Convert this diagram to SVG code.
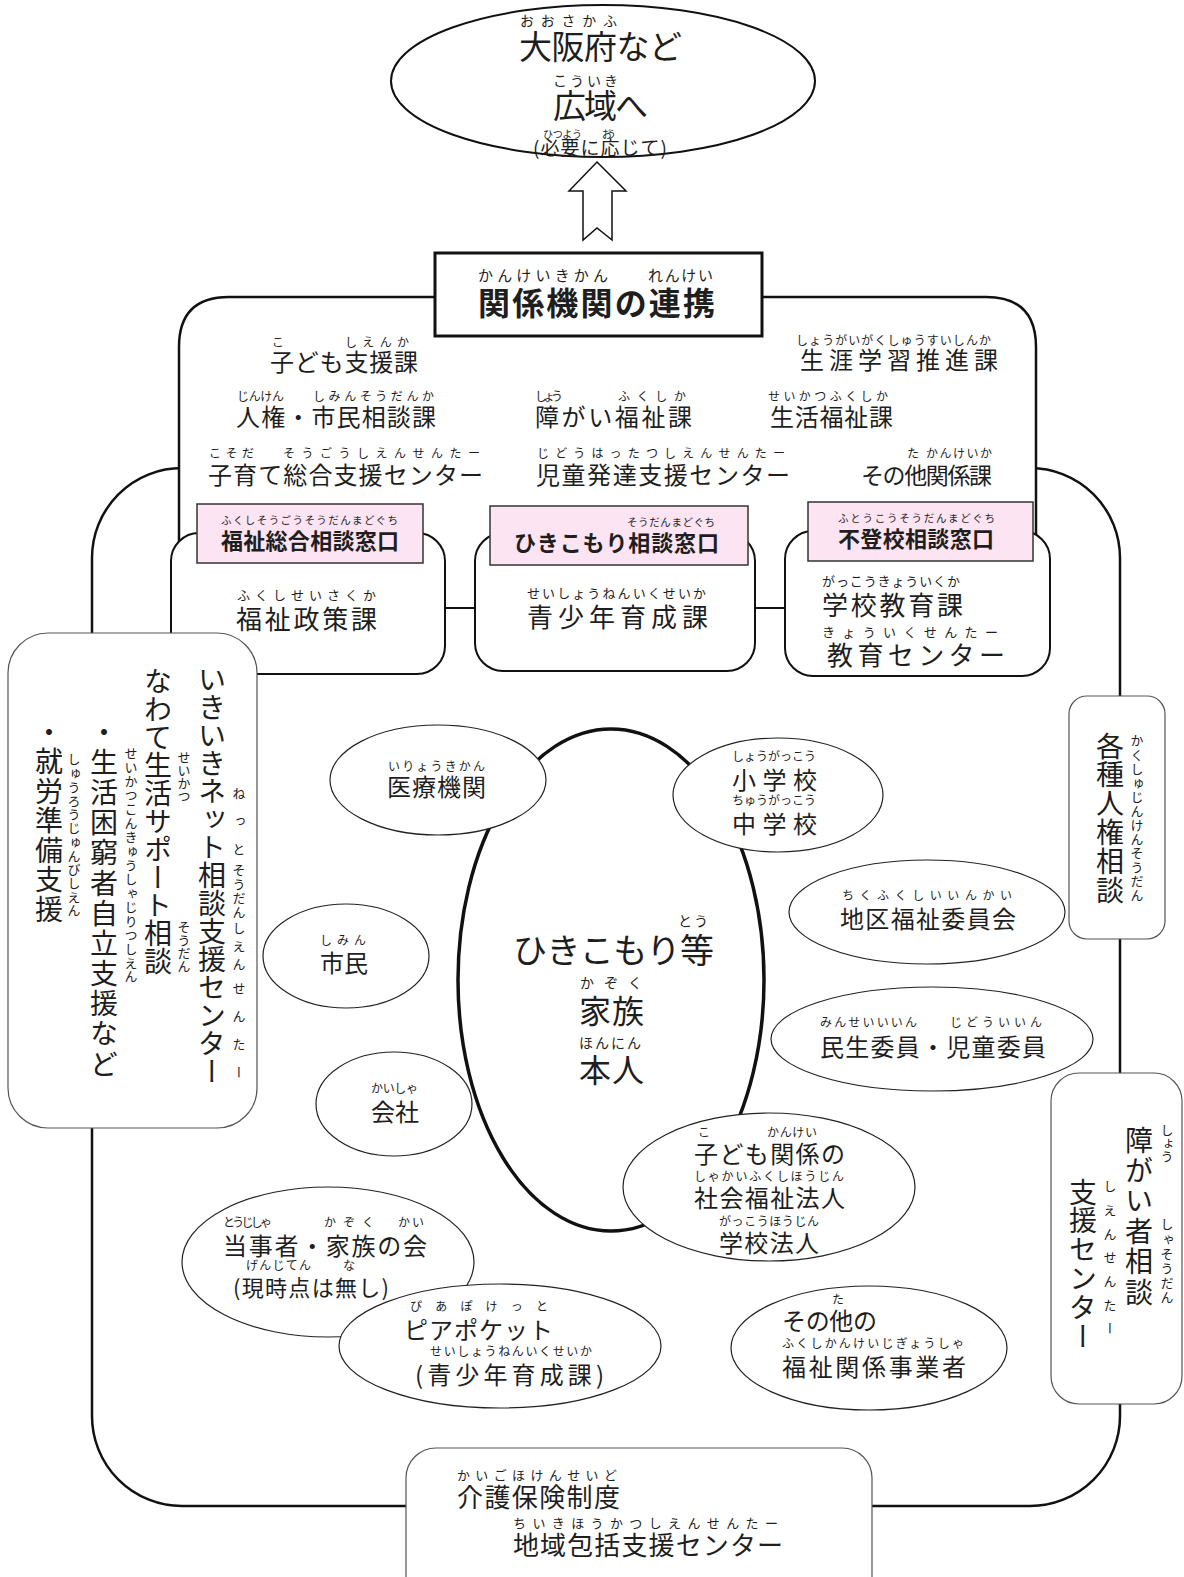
<svg xmlns="http://www.w3.org/2000/svg" width="1184" height="1577" viewBox="0 0 1184 1577">
<style>
text{font-family:"Noto Sans CJK JP","Noto Sans CJK SC",sans-serif;fill:#1e1e1e}
.r{font-size:12px}
.r13{font-size:13px}
.m{font-size:24px}
.b{font-weight:bold}
.v{writing-mode:vertical-rl}
.frame{fill:#fff;stroke:#111;stroke-width:2.5}
.box{fill:#fff;stroke:#111;stroke-width:2}
.pink{fill:#fce4f2;stroke:#333;stroke-width:1.5}
.side{fill:#fff;stroke:#555;stroke-width:1.2}
.ell{fill:#fff;stroke:#222;stroke-width:1.2}
</style>
<rect width="1184" height="1577" fill="#fff"/>
<g id="frame">
<rect class="frame" x="92" y="468" width="1028" height="1038" rx="90"/>
<path class="frame" d="M179,600 V347 Q179,297 229,297 H986 Q1036,297 1036,347 V600"/>
</g>
<g id="top">
<ellipse cx="603" cy="81" rx="212" ry="76" fill="#fff" stroke="#111" stroke-width="2"/>
<text x="520" y="26" style="font-size:14px" textLength="97" lengthAdjust="spacing">おおさかふ</text>
<text x="519" y="59" style="font-size:33px" textLength="163" lengthAdjust="spacing">大阪府など</text>
<text x="553" y="86" style="font-size:14px" textLength="65" lengthAdjust="spacing">こういき</text>
<text x="553" y="118" style="font-size:33px" textLength="95" lengthAdjust="spacing">広域へ</text>
<text x="543" y="138" style="font-size:10px" textLength="39" lengthAdjust="spacing">ひつよう</text>
<text x="602" y="138" style="font-size:10px" textLength="14" lengthAdjust="spacing">おう</text>
<text x="533" y="155" style="font-size:19px" textLength="134" lengthAdjust="spacing">(必要に応じて)</text>
</g>
<g id="connectors">
<polygon points="597,162 626,191 612,191 612,240 597,228 583,240 583,191 569,191" fill="#fff" stroke="#111" stroke-width="1.5"/>
<line x1="445" y1="608" x2="475" y2="608" stroke="#111" stroke-width="2"/>
<line x1="755" y1="608" x2="785" y2="608" stroke="#111" stroke-width="2"/>
</g>
<g id="title">
<rect x="435" y="253" width="327" height="83" fill="#fff" stroke="#111" stroke-width="3"/>
<text x="478" y="281" style="font-size:15px" textLength="130" lengthAdjust="spacing">かんけいきかん</text>
<text x="648" y="281" style="font-size:15px" textLength="65" lengthAdjust="spacing">れんけい</text>
<text class="b" x="478" y="315" style="font-size:32px" textLength="237" lengthAdjust="spacing">関係機関の連携</text>
</g>
<g id="upper-texts">
<text class="r" x="272" y="347">こ</text>
<text class="r" x="345" y="347" textLength="64" lengthAdjust="spacing">しえんか</text>
<text class="m" x="270" y="371" textLength="148" lengthAdjust="spacing">子ども支援課</text>
<text class="r" x="796" y="345" textLength="195" lengthAdjust="spacing">しょうがいがくしゅうすいしんか</text>
<text class="m" x="800" y="369" textLength="198" lengthAdjust="spacing">生涯学習推進課</text>
<text class="r" x="237" y="401" textLength="47" lengthAdjust="spacing">じんけん</text>
<text class="r" x="313" y="401" textLength="121" lengthAdjust="spacing">しみんそうだんか</text>
<text class="m" x="236" y="426" textLength="200" lengthAdjust="spacing">人権・市民相談課</text>
<text class="r" x="535" y="401" textLength="28" lengthAdjust="spacing">しょう</text>
<text class="r" x="618" y="401" textLength="68" lengthAdjust="spacing">ふくしか</text>
<text class="m" x="535" y="426" textLength="157" lengthAdjust="spacing">障がい福祉課</text>
<text class="r" x="768" y="401" textLength="120" lengthAdjust="spacing">せいかつふくしか</text>
<text class="m" x="770" y="426" textLength="123" lengthAdjust="spacing">生活福祉課</text>
<text class="r" x="209" y="458" textLength="45" lengthAdjust="spacing">こそだ</text>
<text class="r" x="283" y="458" textLength="197" lengthAdjust="spacing">そうごうしえんせんたー</text>
<text class="m" x="208" y="484" textLength="275" lengthAdjust="spacing">子育て総合支援センター</text>
<text class="r" x="537" y="458" textLength="248" lengthAdjust="spacing">じどうはったつしえんせんたー</text>
<text class="m" x="536" y="484" textLength="254" lengthAdjust="spacing">児童発達支援センター</text>
<text class="r" x="907" y="458">た</text>
<text class="r" x="926" y="458" textLength="66" lengthAdjust="spacing">かんけいか</text>
<text x="861" y="484" style="font-size:23px" textLength="131" lengthAdjust="spacing">その他関係課</text>
</g>
<g id="box-fukushi">
<rect class="box" x="171" y="533" width="274" height="141" rx="28"/>
<text class="r13" x="237" y="600" textLength="139" lengthAdjust="spacing">ふくしせいさくか</text>
<text x="236" y="629" style="font-size:26px" textLength="141" lengthAdjust="spacing">福祉政策課</text>
</g>
<g id="box-seishonen">
<rect class="box" x="475" y="533" width="280" height="138" rx="28"/>
<text class="r13" x="527" y="598" textLength="179" lengthAdjust="spacing">せいしょうねんいくせいか</text>
<text x="527" y="627" style="font-size:26px" textLength="181" lengthAdjust="spacing">青少年育成課</text>
</g>
<g id="box-gakko">
<rect class="box" x="785" y="531" width="265" height="145" rx="28"/>
<text class="r13" x="822" y="586" textLength="138" lengthAdjust="spacing">がっこうきょういくか</text>
<text x="822" y="615" style="font-size:26px" textLength="141" lengthAdjust="spacing">学校教育課</text>
<text class="r13" x="822" y="637" textLength="176" lengthAdjust="spacing">きょういくせんたー</text>
<text x="827" y="665" style="font-size:26px" textLength="178" lengthAdjust="spacing">教育センター</text>
</g>
<g id="pink-fukushi">
<rect class="pink" x="197" y="504" width="226" height="59"/>
<text x="221" y="524" style="font-size:10.5px" textLength="177" lengthAdjust="spacing">ふくしそうごうそうだんまどぐち</text>
<text class="b" x="221" y="549" style="font-size:22px" textLength="178" lengthAdjust="spacing">福祉総合相談窓口</text>
</g>
<g id="pink-hikikomori">
<rect class="pink" x="490" y="506" width="258" height="59"/>
<text x="627" y="526" style="font-size:10.5px" textLength="88" lengthAdjust="spacing">そうだんまどぐち</text>
<text class="b" x="514" y="551" style="font-size:22px" textLength="205" lengthAdjust="spacing">ひきこもり相談窓口</text>
</g>
<g id="pink-futoko">
<rect class="pink" x="808" y="502" width="225" height="59"/>
<text x="838" y="522" style="font-size:10.5px" textLength="157" lengthAdjust="spacing">ふとうこうそうだんまどぐち</text>
<text class="b" x="838" y="547" style="font-size:22px" textLength="156" lengthAdjust="spacing">不登校相談窓口</text>
</g>
<g id="left-box">
<rect class="side" x="8" y="633" width="249" height="495" rx="40"/>
<text class="v" x="212" y="665" style="font-size:28px" textLength="420" lengthAdjust="spacing">いきいきネット相談支援センター</text>
<text class="v r13" x="239" y="787" letter-spacing="15">ねっと</text>
<text class="v r13" x="239" y="864" letter-spacing="1">そうだん</text>
<text class="v r13" x="239" y="922" letter-spacing="5">しえん</text>
<text class="v r13" x="239" y="982" letter-spacing="15">せんたー</text>
<text class="v" x="158" y="667" style="font-size:28px" textLength="308" lengthAdjust="spacing">なわて生活サポート相談</text>
<text class="v r13" x="184" y="751">せいかつ</text>
<text class="v r13" x="184" y="921">そうだん</text>
<text class="v" x="104" y="718" style="font-size:28px" textLength="360" lengthAdjust="spacing">・生活困窮者自立支援など</text>
<text class="v r13" x="131" y="747" textLength="236" lengthAdjust="spacing">せいかつこんきゅうしゃじりつしえん</text>
<text class="v" x="49" y="718" style="font-size:28px" textLength="205" lengthAdjust="spacing">・就労準備支援</text>
<text class="v r13" x="74" y="753" textLength="164" lengthAdjust="spacing">しゅうろうじゅんびしえん</text>
</g>
<g id="right-jinken">
<rect class="side" x="1069" y="696" width="96" height="243" rx="18"/>
<text class="v" x="1110" y="732" style="font-size:28px" textLength="172" lengthAdjust="spacing">各種人権相談</text>
<text class="v r13" x="1137" y="734" textLength="168" lengthAdjust="spacing">かくしゅじんけんそうだん</text>
</g>
<g id="right-shogai">
<rect class="side" x="1051" y="1073" width="131" height="331" rx="28"/>
<text class="v" x="1139" y="1126" style="font-size:28px" textLength="180" lengthAdjust="spacing">障がい者相談</text>
<text class="v r13" x="1167" y="1124">しょう</text>
<text class="v r13" x="1167" y="1218" textLength="86" lengthAdjust="spacing">しゃそうだん</text>
<text class="v" x="1083" y="1178" style="font-size:28px" textLength="172" lengthAdjust="spacing">支援センター</text>
<text class="v r13" x="1110" y="1180" textLength="155" lengthAdjust="spacing">しえんせんたー</text>
</g>
<g id="bottom-box">
<rect class="side" x="406" y="1448" width="466" height="160" rx="30"/>
<text class="r13" x="457" y="1480" textLength="160" lengthAdjust="spacing">かいごほけんせいど</text>
<text x="457" y="1507" style="font-size:26px" textLength="163" lengthAdjust="spacing">介護保険制度</text>
<text class="r13" x="513" y="1528" textLength="265" lengthAdjust="spacing">ちいきほうかつしえんせんたー</text>
<text x="513" y="1555" style="font-size:26px" textLength="270" lengthAdjust="spacing">地域包括支援センター</text>
</g>
<g id="center">
<ellipse cx="611" cy="980" rx="153" ry="251" fill="#fff" stroke="#111" stroke-width="3.5"/>
<text x="678" y="926" style="font-size:14px" textLength="30" lengthAdjust="spacing">とう</text>
<text x="513" y="963" style="font-size:34px" textLength="201" lengthAdjust="spacing">ひきこもり等</text>
<text x="580" y="988" style="font-size:14px" textLength="62" lengthAdjust="spacing">かぞく</text>
<text x="579" y="1023" style="font-size:32px" textLength="65" lengthAdjust="spacing">家族</text>
<text x="579" y="1048" style="font-size:14px" textLength="62" lengthAdjust="spacing">ほんにん</text>
<text x="579" y="1082" style="font-size:32px" textLength="65" lengthAdjust="spacing">本人</text>
</g>
<g id="iryo">
<ellipse class="ell" cx="438" cy="780" rx="108" ry="55"/>
<text class="r" x="388" y="771" textLength="97" lengthAdjust="spacing">いりょうきかん</text>
<text class="m" x="387" y="796" textLength="99" lengthAdjust="spacing">医療機関</text>
</g>
<g id="gakko">
<ellipse class="ell" cx="778" cy="795" rx="105" ry="57"/>
<text class="r" x="732" y="761" textLength="84" lengthAdjust="spacing">しょうがっこう</text>
<text class="m" x="732" y="789" textLength="85" lengthAdjust="spacing">小学校</text>
<text class="r" x="732" y="805" textLength="84" lengthAdjust="spacing">ちゅうがっこう</text>
<text class="m" x="732" y="833" textLength="85" lengthAdjust="spacing">中学校</text>
</g>
<g id="chiku">
<ellipse class="ell" cx="927" cy="912" rx="138" ry="52"/>
<text class="r" x="842" y="900" textLength="170" lengthAdjust="spacing">ちくふくしいいんかい</text>
<text class="m" x="840" y="928" textLength="176" lengthAdjust="spacing">地区福祉委員会</text>
</g>
<g id="shimin">
<ellipse class="ell" cx="346" cy="956" rx="83" ry="52"/>
<text class="r" x="320" y="945" textLength="46" lengthAdjust="spacing">しみん</text>
<text class="m" x="320" y="972" textLength="48" lengthAdjust="spacing">市民</text>
</g>
<g id="minsei">
<ellipse class="ell" cx="932" cy="1039" rx="161" ry="52"/>
<text class="r" x="820" y="1027" textLength="97" lengthAdjust="spacing">みんせいいいん</text>
<text class="r" x="950" y="1027" textLength="92" lengthAdjust="spacing">じどういいん</text>
<text class="m" x="820" y="1056" textLength="226" lengthAdjust="spacing">民生委員・児童委員</text>
</g>
<g id="kaisha">
<ellipse class="ell" cx="394" cy="1104" rx="78" ry="52"/>
<text class="r" x="371" y="1093" textLength="47" lengthAdjust="spacing">かいしゃ</text>
<text class="m" x="371" y="1121" textLength="48" lengthAdjust="spacing">会社</text>
</g>
<g id="kodomo-kankei">
<ellipse class="ell" cx="769" cy="1187" rx="146" ry="74"/>
<text class="r" x="698" y="1137">こ</text>
<text class="r" x="767" y="1137" textLength="50" lengthAdjust="spacing">かんけい</text>
<text class="m" x="694" y="1163" textLength="151" lengthAdjust="spacing">子ども関係の</text>
<text class="r" x="694" y="1181" textLength="150" lengthAdjust="spacing">しゃかいふくしほうじん</text>
<text class="m" x="694" y="1207" textLength="151" lengthAdjust="spacing">社会福祉法人</text>
<text class="r" x="719" y="1226" textLength="100" lengthAdjust="spacing">がっこうほうじん</text>
<text class="m" x="719" y="1252" textLength="100" lengthAdjust="spacing">学校法人</text>
</g>
<g id="toujisha">
<ellipse class="ell" cx="328" cy="1262" rx="146" ry="75"/>
<text class="r" x="223" y="1227" textLength="49" lengthAdjust="spacing">とうじしゃ</text>
<text class="r" x="324" y="1227" textLength="50" lengthAdjust="spacing">かぞく</text>
<text class="r" x="398" y="1227" textLength="26" lengthAdjust="spacing">かい</text>
<text class="m" x="223" y="1255" textLength="204" lengthAdjust="spacing">当事者・家族の会</text>
<text class="r" x="246" y="1270" textLength="65" lengthAdjust="spacing">げんじてん</text>
<text class="r" x="343" y="1270">な</text>
<text x="233" y="1296" style="font-size:22px" textLength="156" lengthAdjust="spacing">(現時点は無し)</text>
</g>
<g id="peer-pocket">
<ellipse class="ell" cx="500" cy="1346" rx="161" ry="62"/>
<text class="r" x="410" y="1311" textLength="138" lengthAdjust="spacing">ぴあぽけっと</text>
<text class="m" x="404" y="1339" textLength="149" lengthAdjust="spacing">ピアポケット</text>
<text class="r" x="430" y="1356" textLength="162" lengthAdjust="spacing">せいしょうねんいくせいか</text>
<text class="m" x="415" y="1384" textLength="189" lengthAdjust="spacing">(青少年育成課)</text>
</g>
<g id="sonota-jigyosha">
<ellipse class="ell" cx="869" cy="1348" rx="138" ry="62"/>
<text class="r" x="832" y="1304">た</text>
<text class="m" x="782" y="1330" textLength="95" lengthAdjust="spacing">その他の</text>
<text class="r" x="782" y="1348" textLength="182" lengthAdjust="spacing">ふくしかんけいじぎょうしゃ</text>
<text class="m" x="782" y="1376" textLength="184" lengthAdjust="spacing">福祉関係事業者</text>
</g>
</svg>
